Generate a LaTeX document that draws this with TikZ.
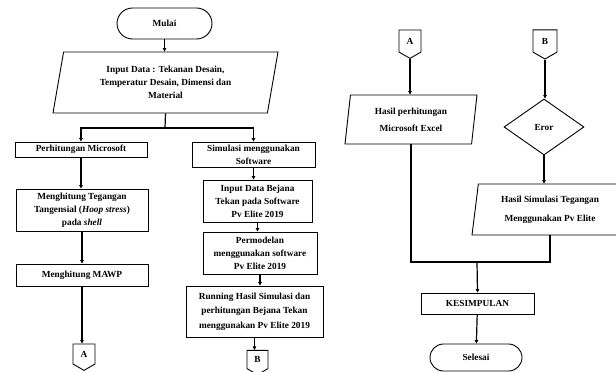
\documentclass[tikz,border=0pt]{standalone}
\usepackage{fontspec}
\setmainfont{Liberation Serif}
\usepackage{tikz}
\usetikzlibrary{arrows.meta}
\usetikzlibrary{shapes}
\tikzset{
  flownode/.style = {align=center, inner sep=0pt, text centered,
    font=\bfseries\fontsize{9.3}{13}\selectfont, line width=0.9pt},
  fc_proc/.style = {flownode, rectangle, draw=black},% proses
  fc_term/.style = {flownode, rounded rectangle, draw=black},% mulai / selesai
  fc_io/.style = {flownode, trapezium, draw=black, trapezium stretches body,
    trapezium left angle=72, trapezium right angle=108},% input / output
  fc_cond/.style = {flownode, diamond, draw=black},% keputusan
  fc_link/.style = {flownode, signal, signal to=south, signal pointer angle=120,
    draw=black},% penghubung halaman
  fc_line/.style = {line width=1.2pt},
  fc_arrow/.style = {fc_line, -{Triangle[length=3.5pt,width=3.5pt]}}
}

\begin{document}
\begin{tikzpicture}[x=1pt,y=-1pt]
\useasboundingbox (0,0) rectangle (616,372);
% kolom kiri
\node [fc_term, minimum width=95, minimum height=31] (mulai) at (164.5,23.5) {Mulai};
\node [fc_io, minimum width=225, minimum height=61] (input) at (165.5,82.5)
  {Input Data : Tekanan Desain,\\Temperatur Desain, Dimensi dan\\Material};
\node [fc_proc, minimum width=132, minimum height=15] (hitung) at (81,149.5) {Perhitungan Microsoft};
\node [fc_proc, minimum width=132, minimum height=42] (hoop) at (82,210)
  {Menghitung Tegangan\\Tangensial (\textit{Hoop stress})\\pada \textit{shell}};
\node [fc_proc, minimum width=132, minimum height=22] (mawp) at (82,275) {Menghitung MAWP};
\node [fc_link, minimum width=22, minimum height=22] (A) at (84,354) {A};

\node [fc_proc, minimum width=123, minimum height=25] (simulasi) at (253.5,154.5)
  {Simulasi menggunakan\\Software};
\node [fc_proc, minimum width=109, minimum height=42] (bejana) at (257.5,201)
  {Input Data Bejana\\Tekan pada Software\\Pv Elite 2019};
\node [fc_proc, minimum width=114, minimum height=42] (model) at (260,253)
  {Permodelan\\menggunakan software\\Pv Elite 2019};
\node [fc_proc, minimum width=137, minimum height=51, font=\bfseries\fontsize{9.3}{14.5}\selectfont] (running) at (254.5,311.5)
  {Running Hasil Simulasi dan\\perhitungan Bejana Tekan\\menggunakan Pv Elite 2019};
\node [fc_link, minimum width=21, minimum height=20] (B) at (257.5,359.5) {B};

% kolom kanan
\node [fc_link, minimum width=22, minimum height=24] (A2) at (410,41) {A};
\node [fc_link, minimum width=24, minimum height=24] (B2) at (545,41) {B};
\node [fc_io, minimum width=132, minimum height=49, trapezium left angle=77,
  trapezium right angle=103, font=\bfseries\fontsize{9.3}{17}\selectfont] (excel) at (411,119.5)
  {Hasil perhitungan\\Microsoft Excel};
\node [fc_cond, minimum width=80, minimum height=56] (eror) at (544,127) {Eror};
\node [fc_io, minimum width=156, minimum height=51, trapezium left angle=77,
  trapezium right angle=103, font=\bfseries\fontsize{9.3}{19}\selectfont] (pvelite) at (550,209.5)
  {Hasil Simulasi Tegangan\\Menggunakan Pv Elite};
\node [fc_proc, minimum width=113, minimum height=21] (kesimpulan) at (477.5,303.5) {KESIMPULAN};
\node [fc_term, minimum width=92, minimum height=27] (selesai) at (476,357.5) {Selesai};

\coordinate (cabang) at (165,128);
\coordinate (gabung) at (477,262);

\draw[fc_arrow] (mulai.south) -- (mulai.south |- input.north);
\draw[fc_line] (input.south) -- (cabang);
\draw[fc_arrow] (cabang) -| (hitung.north);
\draw[fc_arrow] (cabang) -| (simulasi.north);
\draw[fc_arrow] (hitung.south) -- (hitung.south |- hoop.north);
\draw[fc_arrow] (hoop) -- (mawp);
\draw[fc_arrow] (mawp.south) -- (mawp.south |- A.north);
\draw[fc_arrow] (simulasi.south) -- (simulasi.south |- bejana.north);
\draw[fc_arrow] (bejana.south) -- (bejana.south |- model.north);
\draw[fc_arrow] (model.south) -- (model.south |- running.north);
\draw[fc_arrow] (running.south) -- (running.south |- B.north);

\draw[fc_arrow] (A2.south) -- (A2.south |- excel.north);
\draw[fc_arrow] (B2.south) -- (B2.south |- eror.north);
\draw[fc_arrow] (eror.south) -- (eror.south |- pvelite.north);
\draw[fc_line] (excel.south) |- (gabung) -| (pvelite.south);
\draw[fc_arrow] (gabung) -- (kesimpulan.north);
\draw[fc_arrow] (kesimpulan) -- (selesai);
\end{tikzpicture}
\end{document}
